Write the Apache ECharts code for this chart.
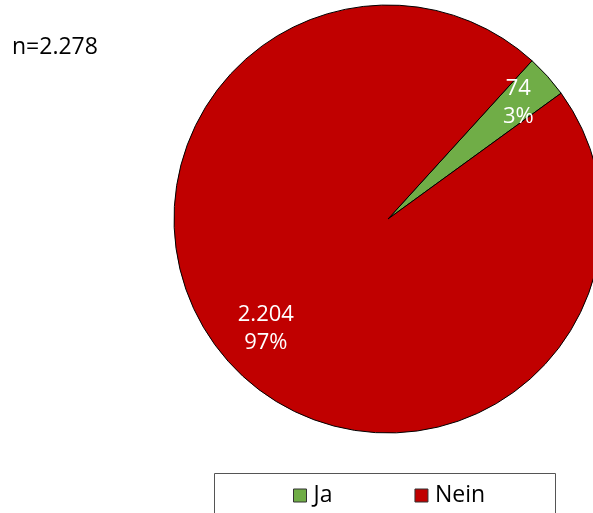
<!DOCTYPE html>
<html><head><meta charset="utf-8">
<script src="https://cdn.jsdelivr.net/npm/echarts@6/dist/echarts.min.js"></script>
<style>html,body{margin:0;padding:0;background:#fff}#c{width:593px;height:513px}</style>
</head><body><div id="c"></div>
<script>
const categories = ['Ja', 'Nein'];
const values = [74, 2204];
const colors = ['#70AD47', '#C00000'];
const totalLabel = 'n=2.278';
const fmtNum = v => v.toLocaleString('de-DE');
const total = values.reduce((a, b) => a + b, 0);
const pct = v => Math.round(v / total * 100) + '%';
const FONT = 'Open Sans';

const baseData = categories.map((c, i) => ({ name: c, value: values[i], itemStyle: { color: colors[i] } }));
function labelOnly(idx) {
  return categories.map((c, i) => ({
    name: c, value: values[i],
    itemStyle: { color: 'rgba(0,0,0,0)', borderWidth: 0 },
    label: { show: i === idx }
  }));
}
const labelCfg = {
  position: 'inside', color: '#fff', fontFamily: FONT, fontSize: 22, lineHeight: 28,
  formatter: p => fmtNum(p.value) + '\n' + pct(p.value)
};
const chart = echarts.init(document.getElementById('c'), null, { renderer: 'canvas' });
chart.setOption({
  animation: false,
  title: { text: totalLabel, left: 7, top: 31, textStyle: { fontFamily: FONT, fontSize: 23, fontWeight: 'normal', color: '#000' } },
  legend: {
    data: categories, left: 293, top: 484, padding: 0, itemWidth: 13, itemHeight: 13, itemGap: 82,
    icon: 'rect',
    itemStyle: { borderColor: '#333', borderWidth: 1 },
    textStyle: { fontFamily: FONT, fontSize: 23, color: '#000', padding: [0, 0, 0, 2] }
  },
  graphic: [{ type: 'rect', shape: { x: 214.5, y: 473.5, width: 341, height: 50 }, style: { fill: 'none', stroke: '#555', lineWidth: 1 } }],
  series: [
    {
      type: 'pie', center: [388, 219], radius: 214, startAngle: 47.7, clockwise: true,
      label: { show: false }, labelLine: { show: false }, emphasis: { disabled: true },
      itemStyle: { borderColor: '#000', borderWidth: 1 },
      data: baseData
    },
    {
      type: 'pie', center: [388, 219], radius: [140, 182], startAngle: 47.7, clockwise: true, silent: true,
      legendHoverLink: false, label: labelCfg, labelLine: { show: false }, emphasis: { disabled: true },
      data: labelOnly(1)
    },
    {
      type: 'pie', center: [388, 219], radius: [150, 194], startAngle: 47.7, clockwise: true, silent: true,
      legendHoverLink: false, label: labelCfg, labelLine: { show: false }, emphasis: { disabled: true },
      data: labelOnly(0)
    }
  ]
});
</script></body></html>
